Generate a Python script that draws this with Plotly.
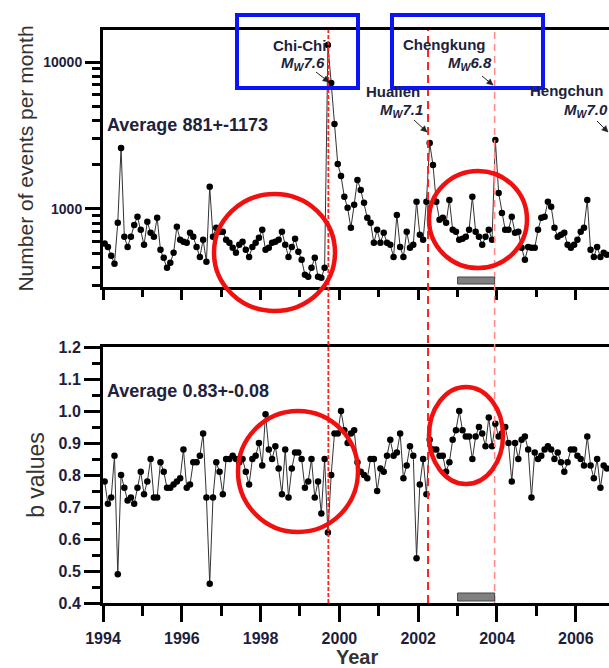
import math
import plotly.graph_objects as go

# ---------------- data (monthly, Jan 1994 .. Oct 2006) ----------------
start_year = 1994
events_per_month = [
    580, 551, 480, 423, 803, 2600, 646, 551, 646, 778, 883, 720,
    569, 816, 687, 646, 869, 526, 464, 397, 429, 502, 755, 616,
    597, 588, 687, 646, 551, 471, 616, 436, 1412, 646, 743, 698,
    698, 616, 588, 543, 502, 569, 597, 526, 471, 551, 588, 636,
    720, 526, 543, 588, 597, 616, 698, 569, 471, 551, 626, 510,
    450, 356, 345, 397, 464, 345, 339, 397, 13060, 7194, 3785, 2023,
    1677, 1207, 1016, 743, 1065, 1574, 1346, 1099, 869, 803, 588, 720,
    588, 687, 588, 569, 471, 910, 551, 471, 698, 543, 569, 1116,
    666, 616, 1116, 2812, 1992, 1116, 842, 869, 803, 1151, 720, 698,
    616, 626, 646, 720, 1207, 698, 646, 569, 646, 720, 616, 2946,
    1285, 939, 720, 720, 883, 687, 698, 543, 450, 551, 543, 543,
    720, 869, 883, 1116, 1032, 743, 646, 666, 687, 569, 543, 569,
    616, 698, 743, 1151, 526, 471, 551, 471, 502, 487,
]
b_values = [
    0.78, 0.71, 0.73, 0.86, 0.49, 0.80, 0.76, 0.72, 0.73, 0.71, 0.76, 0.81,
    0.74, 0.78, 0.85, 0.73, 0.73, 0.84, 0.81, 0.76, 0.76, 0.77, 0.78, 0.79,
    0.88, 0.76, 0.77, 0.84, 0.84, 0.86, 0.93, 0.73, 0.46, 0.73, 0.84, 0.81,
    0.74, 0.85, 0.85, 0.86, 0.85, 0.84, 0.85, 0.81, 0.77, 0.85, 0.86, 0.90,
    0.83, 0.99, 0.88, 0.85, 0.89, 0.82, 0.74, 0.88, 0.73, 0.82, 0.87, 0.87,
    0.85, 0.76, 0.78, 0.85, 0.73, 0.78, 0.68, 0.85, 0.62, 0.80, 0.93, 0.93,
    1.00, 0.94, 0.90, 0.93, 0.94, 0.84, 0.81, 0.80, 0.79, 0.85, 0.85, 0.75,
    0.82, 0.81, 0.86, 0.91, 0.86, 0.87, 0.93, 0.79, 0.83, 0.89, 0.86, 0.54,
    0.77, 0.85, 0.74, 0.91, 0.88, 0.88, 0.86, 0.86, 0.81, 0.84, 0.91, 0.94,
    1.00, 0.94, 0.92, 0.92, 0.85, 0.92, 0.95, 0.93, 0.89, 0.98, 0.89, 0.96,
    0.92, 0.93, 0.95, 0.90, 0.78, 0.90, 0.85, 0.91, 0.92, 0.88, 0.73, 0.87,
    0.85, 0.86, 0.88, 0.89, 0.88, 0.85, 0.87, 0.84, 0.81, 0.84, 0.88, 0.88,
    0.86, 0.85, 0.83, 0.92, 0.83, 0.79, 0.85, 0.76, 0.83, 0.82,
]
years = [start_year + (i + 0.5) / 12 for i in range(len(events_per_month))]

quake_names = ["Chi-Chi", "Hualien", "Chengkung"]
quake_times = [1999.72, 2002.25, 2003.94]
window = [2003.0, 2003.94]
x_range = [1994, 2006.843]
top_ticks = [1000, 10000]
minor_top = [300, 400, 500, 600, 700, 800, 900,
             2000, 3000, 4000, 5000, 6000, 7000, 8000, 9000]
year_ticks = [1994, 1996, 1998, 2000, 2002, 2004, 2006]

# ---------------- geometry helpers (pixels -> paper) ----------------
W, H = 609, 668
L, R, T, B = 103, 0, 30, 65
PW, PH = W - L - R, H - T - B


def px(x):
    return (x - L) / PW


def py(y):
    return (H - B - y) / PH


FONT = "Arial, Liberation Sans"
TICK_COL = "#1c1e3c"
tickfont = dict(family=FONT, size=15, color=TICK_COL, weight="bold")

fig = go.Figure()
marker = dict(color="black", size=6.5)
line = dict(color="#333", width=1)
fig.add_trace(go.Scatter(x=years, y=events_per_month, mode="lines+markers",
                         marker=marker, line=line, xaxis="x", yaxis="y",
                         showlegend=False))
fig.add_trace(go.Scatter(x=years, y=b_values, mode="lines+markers",
                         marker=marker, line=line, xaxis="x2", yaxis="y2",
                         showlegend=False))

top_dom = [py(287), 1]
bot_dom = [0, py(347)]

xcommon = dict(range=x_range, showline=True, linewidth=3, linecolor="black",
               mirror=True, ticks="outside", tickvals=year_ticks, ticklen=16,
               tickwidth=3, tickcolor="black", showgrid=False, zeroline=False,
               minor=dict(dtick=1, tick0=1994, ticks="outside", ticklen=10,
                          tickwidth=3, tickcolor="black", showgrid=False))

fig.update_layout(
    width=W, height=H,
    margin=dict(l=L, r=R, t=T, b=B, pad=0),
    paper_bgcolor="white", plot_bgcolor="white",
    xaxis=dict(xcommon, domain=[0, 1], anchor="y", showticklabels=False,
               ticklen=10, minor=dict(dtick=1, tick0=1994, ticks="outside",
                                      ticklen=7, tickwidth=3,
                                      tickcolor="black")),
    yaxis=dict(type="log", domain=top_dom, anchor="x",
               range=[2.468, 4.218], showline=True, linewidth=3,
               linecolor="black", ticks="outside", tickvals=top_ticks,
               ticktext=["1000", "10000"], ticklen=15, tickwidth=3,
               tickcolor="black", tickfont=dict(tickfont, size=14),
               showgrid=False, zeroline=False,
               minor=dict(tickvals=minor_top, ticks="outside", ticklen=8,
                          tickwidth=2.5, tickcolor="black", showgrid=False),
               title=dict(text="Number of events per month",
                          font=dict(family=FONT, size=21, color="#333"),
                          standoff=4)),
    xaxis2=dict(xcommon, domain=[0, 1], anchor="y2",
                tickfont=dict(tickfont, size=16), ticklabelstandoff=3),
    yaxis2=dict(domain=bot_dom, anchor="x2", range=[0.4, 1.2], dtick=0.1,
                tick0=0.4, tickformat=".1f", showline=True, linewidth=3,
                linecolor="black", ticks="outside", ticklen=16, tickwidth=3,
                tickcolor="black", tickfont=dict(tickfont, size=16),
                showgrid=False, zeroline=False,
                minor=dict(dtick=0.05, tick0=0.4, ticks="outside", ticklen=8,
                           tickwidth=2.5, tickcolor="black", showgrid=False),
                title=dict(text="b values",
                           font=dict(family=FONT, size=23, color="#333"),
                           standoff=8)),
)

# ---------------- shapes ----------------
shapes = []
dash_styles = [dict(color="#ff2020", width=1.8, dash="4px,2px"),
               dict(color="#ff2020", width=2, dash="8px,5px"),
               dict(color="#ff8a8a", width=1.5, dash="7px,5px")]
for t, st in zip(quake_times, dash_styles):
    shapes.append(dict(type="line", xref="x", yref="paper", x0=t, x1=t,
                       y0=0, y1=1, line=st, layer="above"))
# observation window bars
shapes.append(dict(type="rect", xref="x", yref="paper", x0=window[0],
                   x1=window[1], y0=py(284), y1=py(277),
                   fillcolor="#808080", line=dict(color="#444", width=1)))
shapes.append(dict(type="rect", xref="x", yref="paper", x0=window[0],
                   x1=window[1], y0=py(601), y1=py(593),
                   fillcolor="#808080", line=dict(color="#444", width=1)))
# blue highlight boxes
for (x0, y0, x1, y1) in [(237, 15, 358, 88), (392, 15, 543, 88)]:
    shapes.append(dict(type="rect", xref="paper", yref="paper",
                       x0=px(x0), x1=px(x1), y0=py(y1), y1=py(y0),
                       line=dict(color="#0a14f5", width=4)))
# red circles
for (x0, y0, x1, y1) in [(214, 194, 335, 311), (429, 171, 527, 268),
                         (238, 411, 358, 532), (429, 387, 503, 484)]:
    shapes.append(dict(type="circle", xref="paper", yref="paper",
                       x0=px(x0), x1=px(x1), y0=py(y1), y1=py(y0),
                       line=dict(color="#f01010", width=4.5)))


def arrow(xt, yt, xh, yh):
    shapes.append(dict(type="line", xref="paper", yref="paper",
                       x0=px(xt), y0=py(yt), x1=px(xh), y1=py(yh),
                       line=dict(color="#222", width=1)))
    ang = math.atan2(yh - yt, xh - xt)
    size, half = 6, 3
    bx, by = xh - size * math.cos(ang), yh - size * math.sin(ang)
    p1 = (bx + half * math.sin(ang), by - half * math.cos(ang))
    p2 = (bx - half * math.sin(ang), by + half * math.cos(ang))
    path = "M {} {} L {} {} L {} {} Z".format(px(xh), py(yh), px(p1[0]),
                                              py(p1[1]), px(p2[0]), py(p2[1]))
    shapes.append(dict(type="path", xref="paper", yref="paper", path=path,
                       fillcolor="#222", line=dict(color="#222", width=0.5)))


arrow(316, 72, 329, 82)
arrow(482, 76, 493, 85)
arrow(414, 120, 427, 132)
arrow(597, 121, 608, 132)
fig.update_layout(shapes=shapes)

# ---------------- annotations ----------------
anns = []
afont = dict(family=FONT, size=16, color="#20223c", weight="bold")


def txt(text, x, y, anchor="left", size=16, yanchor="middle", color=None):
    f = dict(afont, size=size)
    if color:
        f["color"] = color
    anns.append(dict(text=text, xref="paper", yref="paper", x=px(x), y=py(y),
                     xanchor=anchor, yanchor=yanchor, showarrow=False,
                     font=f, borderpad=0))


txt("Average 881+-1173", 106, 125, size=18)
txt("Average 0.83+-0.08", 106, 391, size=18)
txt("Chi-Chi", 327, 46, anchor="right", size=15)
txt("<i>M<sub>W</sub>7.6</i>", 326, 63, anchor="right", size=15)
txt("Chengkung", 402, 45, size=15)
txt("<i>M<sub>W</sub>6.8</i>", 493, 63, anchor="right", size=15)
txt("Hualien", 365, 91, size=15)
txt("<i>M<sub>W</sub>7.1</i>", 424, 110, anchor="right", size=15)
txt("Hengchun", 529, 90, size=15)
txt("<i>M<sub>W</sub>7.0</i>", 563, 110, size=15)
txt("Year", 357, 645, anchor="center", size=20, yanchor="top", color="#333")
fig.update_layout(annotations=anns)

fig.write_html("out.html")
